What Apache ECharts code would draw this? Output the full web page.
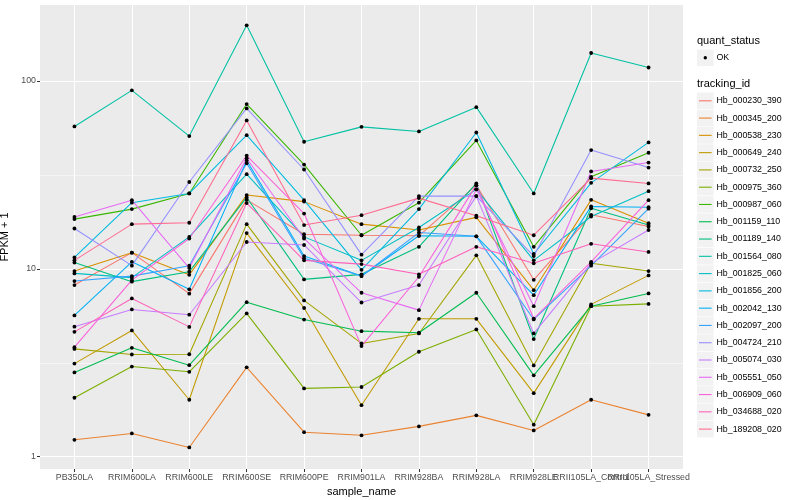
<!DOCTYPE html>
<html><head><meta charset="utf-8">
<script src="https://cdn.jsdelivr.net/npm/echarts@6/dist/echarts.min.js"></script>
<style>html,body{margin:0;padding:0;background:#fff}#c{width:800px;height:500px}</style>
</head><body><div id="c"></div>
<script>
const categories = ['PB350LA','RRIM600LA','RRIM600LE','RRIM600SE','RRIM600PE','RRIM901LA','RRIM928BA','RRIM928LA','RRIM928LE','RRII105LA_Control','RRII105LA_Stressed'];
const trackingIds = ['Hb_000230_390','Hb_000345_200','Hb_000538_230','Hb_000649_240','Hb_000732_250','Hb_000975_360','Hb_000987_060','Hb_001159_110','Hb_001189_140','Hb_001564_080','Hb_001825_060','Hb_001856_200','Hb_002042_130','Hb_002097_200','Hb_004724_210','Hb_005074_030','Hb_005551_050','Hb_006909_060','Hb_034688_020','Hb_189208_020'];
const seriesColors = ['#F8766D','#EA8331','#D89000','#C09B00','#A3A500','#7CAE00','#39B600','#00BB4E','#00BF7D','#00C1A3','#00BFC4','#00BAE0','#00B0F6','#35A2FF','#9590FF','#C77CFF','#E76BF3','#FA62DB','#FF62BC','#FF6C91'];

const Hb_000230_390 = [8.2, 12.2, 7.38, 23.3, 15.3, 15.1, 15.0, 27.9, 8.74, 19.4, 16.8];
const Hb_000345_200 = [1.23, 1.33, 1.12, 2.99, 1.35, 1.30, 1.45, 1.66, 1.38, 2.01, 1.67];
const Hb_000538_230 = [9.73, 12.2, 9.29, 24.7, 22.8, 17.3, 16.1, 18.8, 7.70, 23.3, 17.5];
const Hb_000649_240 = [3.13, 4.70, 2.01, 15.5, 6.19, 1.88, 5.42, 5.42, 2.18, 6.47, 9.23];
const Hb_000732_250 = [3.75, 3.50, 3.51, 17.3, 6.79, 4.01, 4.53, 11.8, 3.06, 10.7, 9.73];
const Hb_000975_360 = [2.06, 3.02, 2.83, 5.79, 2.31, 2.35, 3.62, 4.76, 1.48, 6.33, 6.51];
const Hb_000987_060 = [18.4, 20.8, 25.2, 75.4, 35.9, 15.1, 22.5, 48.3, 13.1, 30.9, 41.5];
const Hb_001159_110 = [2.81, 3.80, 3.07, 6.65, 5.37, 4.66, 4.57, 7.46, 2.71, 6.33, 7.40];
const Hb_001189_140 = [10.8, 8.55, 9.66, 24.0, 8.79, 9.35, 13.1, 28.5, 4.23, 21.0, 17.1];
const Hb_001564_080 = [57.3, 89.2, 50.9, 198, 47.5, 57.0, 53.9, 72.6, 25.2, 141, 118];
const Hb_001825_060 = [9.46, 8.98, 14.8, 31.9, 14.8, 11.1, 16.6, 26.5, 11.1, 19.0, 25.9];
const Hb_001856_200 = [11.5, 22.5, 25.2, 51.5, 23.2, 9.88, 20.8, 53.2, 12.0, 28.7, 47.1];
const Hb_002042_130 = [5.65, 10.9, 7.78, 37.7, 11.7, 9.16, 15.0, 14.9, 7.24, 21.5, 21.3];
const Hb_002097_200 = [8.61, 9.15, 10.4, 36.5, 11.4, 9.16, 15.6, 14.9, 5.38, 10.4, 20.9];
const Hb_004724_210 = [16.4, 10.4, 29.0, 71.5, 33.8, 11.9, 24.4, 24.4, 11.7, 42.9, 34.6];
const Hb_005074_030 = [4.92, 6.08, 5.70, 13.9, 13.4, 6.62, 8.2, 24.4, 4.53, 10.7, 16.1];
const Hb_005551_050 = [18.9, 23.2, 10.1, 38.8, 14.5, 7.46, 6.03, 26.5, 6.33, 33.0, 36.8];
const Hb_006909_060 = [3.83, 8.71, 14.5, 40.1, 19.7, 3.88, 9.08, 27.9, 5.44, 10.9, 23.2];
const Hb_034688_020 = [4.62, 6.96, 4.91, 22.4, 11.1, 10.6, 9.35, 13.1, 10.7, 13.6, 12.3];
const Hb_189208_020 = [11.1, 17.3, 17.6, 61.7, 17.1, 19.3, 23.8, 19.2, 15.1, 30.4, 28.5];

const seriesValues = [Hb_000230_390,Hb_000345_200,Hb_000538_230,Hb_000649_240,Hb_000732_250,Hb_000975_360,Hb_000987_060,Hb_001159_110,Hb_001189_140,Hb_001564_080,Hb_001825_060,Hb_001856_200,Hb_002042_130,Hb_002097_200,Hb_004724_210,Hb_005074_030,Hb_005551_050,Hb_006909_060,Hb_034688_020,Hb_189208_020];

const yTickLabels = [1, 10, 100];
const yMinorBreaks = [3.162, 31.62];
const quantStatus = ['OK'];

const FONT = '"Liberation Sans", Arial, Helvetica, sans-serif';
const chart = echarts.init(document.getElementById('c'), null, {renderer: 'canvas'});

const catIdx = categories.map((c, i) => i);
// labels split over two axes so that the two overlapping right-hand labels are both drawn, as in the reference
const labelIdxA = catIdx.filter(i => i !== 9);
const labelIdxB = [9];

const series = [];
trackingIds.forEach((id, k) => {
  series.push({
    name: id, type: 'line', z: 2, showSymbol: false, animation: false, silent: true,
    lineStyle: {color: seriesColors[k], width: 1.07},
    itemStyle: {color: seriesColors[k]},
    data: seriesValues[k].map((v, i) => [i, v])
  });
});
const pts = [];
seriesValues.forEach(arr => arr.forEach((v, i) => pts.push([i, v])));
series.push({type: 'scatter', z: 3, symbol: 'circle', symbolSize: 3.8, itemStyle: {color: '#000', opacity: 1}, data: pts, animation: false, silent: true});

// legend drawn with graphic elements
const gfx = [];
const LX = 697, keyStep = 17.28;
gfx.push({type: 'text', left: LX, top: 35, style: {text: 'quant_status', font: '11px ' + FONT, fill: '#000'}});
quantStatus.forEach((q, i) => {
  const top = 49.5 + i * keyStep;
  gfx.push({type: 'rect', shape: {x: LX, y: top, width: 16.6, height: 16.6}, style: {fill: '#F2F2F2'}});
  gfx.push({type: 'circle', shape: {cx: LX + 8.3, cy: top + 8.3, r: 1.7}, style: {fill: '#000'}});
  gfx.push({type: 'text', x: 716.5, y: top + 8.3, style: {text: q, font: '8.8px ' + FONT, fill: '#000', textVerticalAlign: 'middle', verticalAlign: 'middle'}});
});
gfx.push({type: 'text', left: LX, top: 78, style: {text: 'tracking_id', font: '11px ' + FONT, fill: '#000'}});
trackingIds.forEach((id, i) => {
  const top = 92.5 + i * keyStep;
  gfx.push({type: 'rect', shape: {x: LX, y: top, width: 16.6, height: 16.6}, style: {fill: '#F2F2F2'}});
  gfx.push({type: 'line', shape: {x1: LX + 2, y1: top + 8.3, x2: LX + 14.6, y2: top + 8.3}, style: {stroke: seriesColors[i], lineWidth: 1.1}});
  gfx.push({type: 'text', x: 716.5, y: top + 8.3, style: {text: id, font: '8.8px ' + FONT, fill: '#000', textVerticalAlign: 'middle', verticalAlign: 'middle'}});
});

const yCommon = {type: 'log', logBase: 10, min: 0.8601, max: 253.9, axisLine: {show: false, onZero: false}, minorSplitLine: {show: false}};
const xCommon = {type: 'value', min: -0.6, max: 10.6, position: 'bottom', axisLine: {show: false, onZero: false}};
const labelStyle = {margin: 4, fontSize: 8.8, color: '#4D4D4D', fontFamily: FONT, showMinLabel: true, showMaxLabel: true, hideOverlap: false,
  formatter: v => categories[Math.round(v)] || ''};

chart.setOption({
  animation: false,
  backgroundColor: '#FFFFFF',
  textStyle: {fontFamily: FONT},
  grid: {left: 40, right: 117, top: 5, bottom: 31, show: true, backgroundColor: '#EBEBEB', borderWidth: 0, containLabel: false, outerBoundsMode: 'none'},
  xAxis: [Object.assign({}, xCommon, {
    name: 'sample_name', nameLocation: 'middle', nameGap: 13.5,
    nameTextStyle: {fontSize: 11, color: '#000', fontFamily: FONT},
    axisTick: {show: true, length: 3, lineStyle: {color: '#333333', width: 1}, customValues: catIdx},
    axisLabel: Object.assign({show: true, customValues: labelIdxA}, labelStyle),
    splitLine: {show: true, lineStyle: {color: '#FFFFFF', width: 1.07}}
  }), Object.assign({}, xCommon, {
    axisTick: {show: false, customValues: labelIdxB},
    axisLabel: Object.assign({show: true, customValues: labelIdxB}, labelStyle),
    splitLine: {show: false}
  })],
  yAxis: [Object.assign({}, yCommon, {
    name: 'FPKM + 1', nameLocation: 'middle', nameGap: 28, nameRotate: 90,
    nameTextStyle: {fontSize: 11, color: '#000', fontFamily: FONT},
    axisTick: {show: true, length: 3, lineStyle: {color: '#333333', width: 1}, customValues: yTickLabels},
    axisLabel: {show: true, customValues: yTickLabels, margin: 4, fontSize: 8.8, color: '#4D4D4D', fontFamily: FONT,
      showMinLabel: true, showMaxLabel: true, formatter: v => String(v)},
    splitLine: {show: true, lineStyle: {color: '#FFFFFF', width: 1.07}}
  }), Object.assign({}, yCommon, {
    position: 'left',
    axisTick: {show: false, customValues: yMinorBreaks},
    axisLabel: {show: false, customValues: yMinorBreaks},
    splitLine: {show: true, lineStyle: {color: '#FFFFFF', width: 0.53}}
  })],
  series: series,
  graphic: {elements: gfx}
});
</script></body></html>
